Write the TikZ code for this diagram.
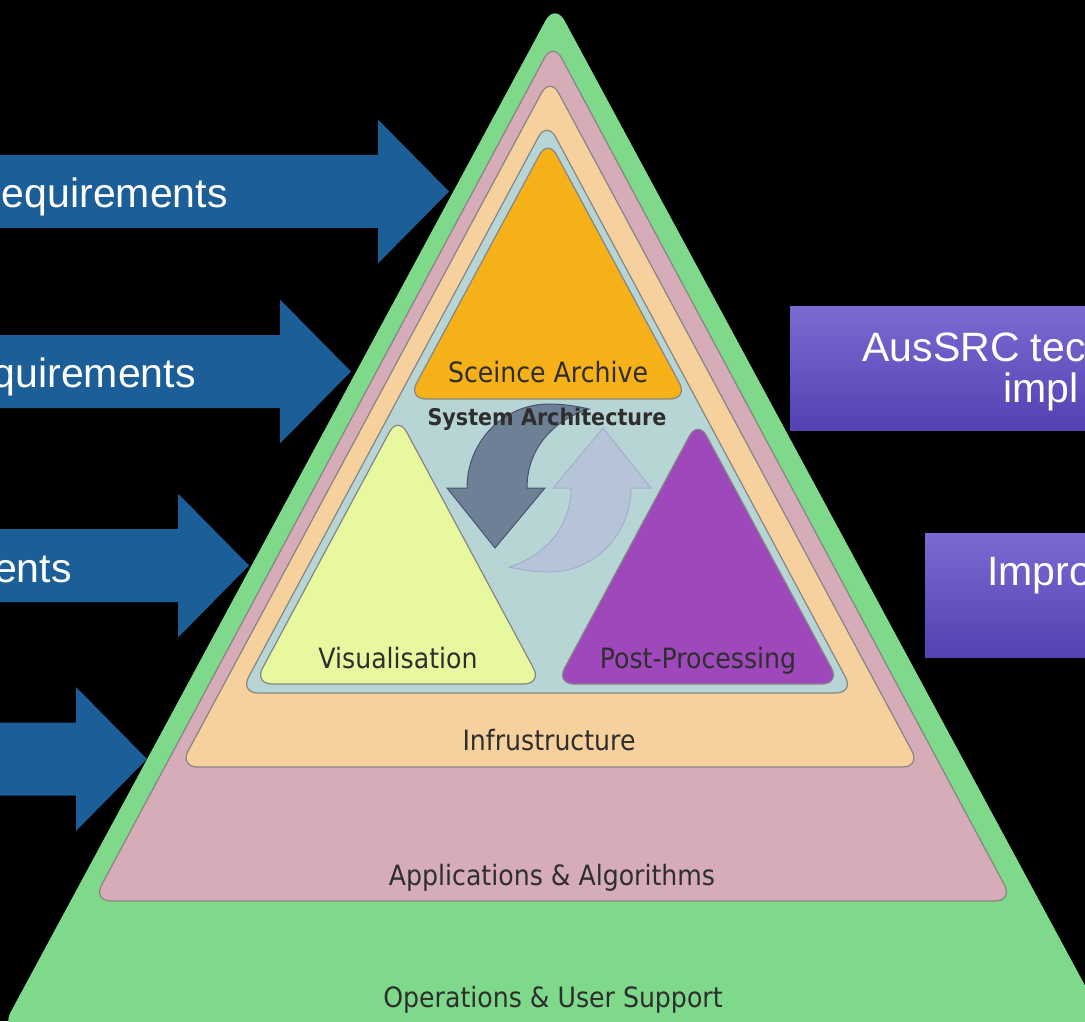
\documentclass[tikz,border=0pt]{standalone}
\usepackage{fontspec}
\setmainfont{Liberation Sans}
\newfontfamily\layerfont[FakeStretch=0.9]{DejaVu Sans}
\usetikzlibrary{positioning}
\definecolor{opsgreen}{HTML}{7ED98A}
\definecolor{appspink}{HTML}{D6ACB8}
\definecolor{infrapeach}{HTML}{F6D19E}
\definecolor{archteal}{HTML}{B8D5D5}
\definecolor{archiveorange}{HTML}{F7B118}
\definecolor{visyellow}{HTML}{E8F89E}
\definecolor{postpurple}{HTML}{9E48BC}
\definecolor{reqblue}{HTML}{1C5E98}
\definecolor{boxtop}{HTML}{7A6BD2}
\definecolor{boxbot}{HTML}{5242B2}
\definecolor{layeredge}{HTML}{858585}
\definecolor{labeltext}{HTML}{2E2E2E}
\definecolor{cycledark}{HTML}{6B7C93}
\definecolor{cycledarkedge}{HTML}{485270}
\definecolor{cyclelight}{HTML}{B5C3D7}
\definecolor{cyclelightedge}{HTML}{A7ADD2}
\tikzset{
  layer/.style={draw=layeredge,line width=0.6pt,rounded corners=9pt},
  layerlabel/.style={font=\layerfont\fontsize{14}{16}\selectfont,
                     text=labeltext,anchor=base,inner sep=0pt},
  archlabel/.style={font=\layerfont\bfseries\fontsize{11.5}{13}\selectfont,
                    text=labeltext,anchor=base,inner sep=0pt},
  reqarrow/.style={fill=reqblue},
  reqlabel/.style={font=\fontsize{20.5}{24}\selectfont,text=white,
                   anchor=base east,inner sep=0pt},
  planbox/.style={top color=boxtop,bottom color=boxbot},
  boxlabel/.style={font=\fontsize{20.5}{24}\selectfont,text=white,
                   anchor=base west,inner sep=0pt},
}
\newcommand{\cyclearrow}{(-82,0) .. controls (-82,-46) and (-46,-84) .. (0,-84)
  .. controls (14,-84) and (27,-82) .. (40,-79)
  .. controls (5,-68) and (-22,-40) .. (-22,0)
  -- (-4,0) -- (-54,60) -- (-102,0) -- cycle}

\begin{document}
\begin{tikzpicture}[x=0.5pt,y=-0.5pt]
    \useasboundingbox (0,0) rectangle (1085,1021);
    \fill[black] (0,0) rectangle (1085,1021);
    \clip (0,0) rectangle (1085,1021);

    % Requirement arrows
    \foreach \cy/\hx in {191.5/378, 371.5/280, 565.5/178, 759/76}
        \fill[reqarrow] (-10,\cy-36.5) -- (\hx,\cy-36.5) -- (\hx,\cy-72)
            -- (\hx+71,\cy) -- (\hx,\cy+72) -- (\hx,\cy+36.5)
            -- (-10,\cy+36.5) -- cycle;
    \node[reqlabel] (req1) at (228,208) {equirements};
    \node[reqlabel] (req2) at (196,387) {quirements};
    \node[reqlabel] (req3) at (72,582) {ents};

    % Plan boxes
    \fill[planbox] (790,307) rectangle (1100,430);
    \fill[planbox] (925,533) rectangle (1100,657);
    \node[boxlabel] (tech1) at (862,361) {AusSRC tec};
    \node[boxlabel] (tech2) at (1003,402) {impl};
    \node[boxlabel] (impro) at (987,585) {Impro};

    % Pyramid layers
    \fill[opsgreen,rounded corners=10pt] (555,3) -- (1109,1030) -- (1,1030) -- cycle;
    \draw[layer,fill=appspink] (553,42) -- (1013,901) -- (93,901) -- cycle;
    \draw[layer,fill=infrapeach] (550,77) -- (920.5,767) -- (179.5,767) -- cycle;
    \draw[layer,fill=archteal] (547,121) -- (854,693) -- (240,693) -- cycle;

    % Cycle arrows
    \begin{scope}[shift={(549,488)}]
        \draw[fill=cycledark,draw=cycledarkedge,line width=0.5pt,fill opacity=0.95]
            \cyclearrow;
        \draw[rotate around={180:(0,0)},fill=cyclelight,draw=cyclelightedge,
              line width=0.5pt,fill opacity=0.9]
            \cyclearrow;
    \end{scope}

    % Components
    \draw[layer,fill=archiveorange] (548,139) -- (688,399) -- (408,399) -- cycle;
    \draw[layer,fill=visyellow] (398,416) -- (542,684) -- (254,684) -- cycle;
    \draw[layer,fill=postpurple] (698,420) -- (840,684) -- (556,684) -- cycle;

    % Labels
    \node[layerlabel] (ops)     at (553,1007) {Operations \& User Support};
    \node[layerlabel] (apps)    at (552,885)  {Applications \& Algorithms};
    \node[layerlabel] (infra)   at (549,750)  {Infrustructure};
    \node[archlabel]  (sysarch) at (547,425)  {System Architecture};
    \node[layerlabel] (archive) at (548,382)  {Sceince Archive};
    \node[layerlabel] (vis)     at (398,668)  {Visualisation};
    \node[layerlabel] (post)    at (698,668)  {Post-Processing};
\end{tikzpicture}
\end{document}
